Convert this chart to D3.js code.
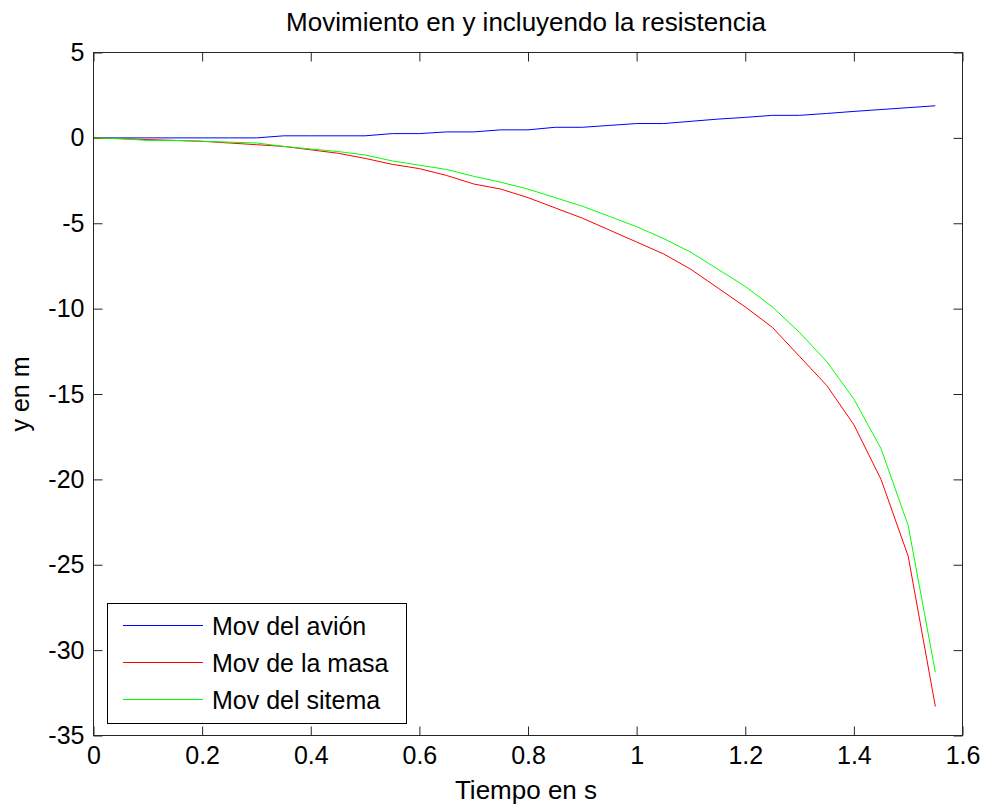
<!DOCTYPE html>
<html>
<head>
<meta charset="utf-8">
<script src="https://cdn.jsdelivr.net/npm/d3@7"></script>
<style>
  html, body { margin: 0; padding: 0; background: #fff; }
  svg { display: block; }
  text { font-family: "Liberation Sans", Arial, Helvetica, sans-serif; fill: #000; }
</style>
</head>
<body>
<svg id="chart" width="983" height="807"></svg>
<script>
// Time samples (s)
const tiempo = [0, 0.05, 0.1, 0.15, 0.2, 0.25, 0.3, 0.35, 0.4, 0.45, 0.5, 0.55, 0.6, 0.65, 0.7, 0.75,
                0.8, 0.85, 0.9, 0.95, 1.0, 1.05, 1.1, 1.15, 1.2, 1.25, 1.3, 1.35, 1.4, 1.45, 1.5, 1.55];

// Vertical position (m) of each body
const movAvion = [0, 0, 0, 0, 0, 0, 0, 0.12, 0.12, 0.12, 0.12, 0.25, 0.25, 0.35, 0.35, 0.47,
                  0.47, 0.62, 0.62, 0.73, 0.84, 0.84, 0.97, 1.1, 1.2, 1.32, 1.32, 1.43, 1.55, 1.66, 1.77, 1.88];
const movMasa = [0, -0.05, -0.1, -0.15, -0.2, -0.3, -0.4, -0.5, -0.7, -0.9, -1.2, -1.55, -1.8, -2.2, -2.7, -3.0,
                 -3.5, -4.1, -4.7, -5.4, -6.1, -6.8, -7.7, -8.8, -9.9, -11.1, -12.8, -14.5, -16.8, -20.0, -24.5, -33.3];
const movSistema = [0, -0.05, -0.15, -0.15, -0.2, -0.25, -0.3, -0.5, -0.65, -0.8, -1.0, -1.35, -1.6, -1.85, -2.25, -2.6,
                    -3.0, -3.5, -4.0, -4.6, -5.2, -5.9, -6.7, -7.7, -8.7, -9.9, -11.4, -13.1, -15.3, -18.2, -22.7, -31.3];

const seriesNames = ["Mov del avión", "Mov de la masa", "Mov del sitema"];
const seriesColors = ["#0000ff", "#ff0000", "#00ff00"];

const xTicks = [0, 0.2, 0.4, 0.6, 0.8, 1, 1.2, 1.4, 1.6];
const yTicks = [5, 0, -5, -10, -15, -20, -25, -30, -35];

const titulo = "Movimiento en y incluyendo la resistencia";
const xLabel = "Tiempo en s";
const yLabel = "y en m";

const svg = d3.select("#chart");
const L = 93.5, R = 962.5, T = 52.5, B = 735.5;
const fs = 25;

const x = d3.scaleLinear().domain([0, 1.6]).range([L, R]);
const y = d3.scaleLinear().domain([-35, 5]).range([B, T]);

// Plot box
svg.append("rect")
  .attr("x", L).attr("y", T).attr("width", R - L).attr("height", B - T)
  .attr("fill", "#fff").attr("stroke", "#262626").attr("stroke-width", 1);

const tickLen = 9;
const fmt = d => String(d);

// Bottom axis with labels, inward ticks
const gx = svg.append("g").attr("transform", `translate(0,${B})`)
  .call(d3.axisBottom(x).tickValues(xTicks).tickSizeInner(-tickLen).tickSizeOuter(0).tickPadding(11).tickFormat(fmt));
// Top axis: ticks only
const gxt = svg.append("g").attr("transform", `translate(0,${T})`)
  .call(d3.axisTop(x).tickValues(xTicks).tickSizeInner(-tickLen).tickSizeOuter(0).tickFormat(""));
// Left axis with labels
const gy = svg.append("g").attr("transform", `translate(${L},0)`)
  .call(d3.axisLeft(y).tickValues(yTicks).tickSizeInner(-tickLen).tickSizeOuter(0).tickPadding(9).tickFormat(fmt));
// Right axis: ticks only
const gyr = svg.append("g").attr("transform", `translate(${R},0)`)
  .call(d3.axisRight(y).tickValues(yTicks).tickSizeInner(-tickLen).tickSizeOuter(0).tickFormat(""));

[gx, gxt, gy, gyr].forEach(g => {
  g.select(".domain").remove();
  g.selectAll(".tick line").attr("stroke", "#262626").attr("stroke-width", 1);
  g.selectAll(".tick text").attr("font-size", fs).attr("font-family", null).attr("fill", "#000");
});
gx.attr("font-family", null).attr("font-size", null);
gy.attr("font-family", null).attr("font-size", null);

// Series lines
const line = d3.line().x((d, i) => x(tiempo[i])).y(d => y(d));
const allSeries = [movAvion, movMasa, movSistema];
allSeries.forEach((s, k) => {
  svg.append("path").datum(s)
    .attr("d", line)
    .attr("fill", "none")
    .attr("stroke", seriesColors[k])
    .attr("stroke-width", 1);
});

// Frame edges on top of the data
svg.append("rect")
  .attr("x", L).attr("y", T).attr("width", R - L).attr("height", B - T)
  .attr("fill", "none").attr("stroke", "#262626").attr("stroke-width", 1);

// Legend
const lg = svg.append("g");
lg.append("rect")
  .attr("x", 107.5).attr("y", 603.5).attr("width", 299).attr("height", 120)
  .attr("fill", "#fff").attr("stroke", "#000").attr("stroke-width", 1);
const rowY = [625.5, 662.5, 699.5];
seriesNames.forEach((name, k) => {
  lg.append("line")
    .attr("x1", 123).attr("x2", 203)
    .attr("y1", rowY[k]).attr("y2", rowY[k])
    .attr("stroke", seriesColors[k]).attr("stroke-width", 1);
  lg.append("text")
    .attr("x", 212).attr("y", rowY[k]).attr("dy", "0.36em")
    .attr("font-size", fs)
    .text(name);
});

// Title and axis labels
svg.append("text")
  .attr("x", (L + R) / 2 - 2).attr("y", 31)
  .attr("text-anchor", "middle").attr("font-size", 26)
  .text(titulo);
svg.append("text")
  .attr("x", (L + R) / 2 - 2).attr("y", 799)
  .attr("text-anchor", "middle").attr("font-size", 26)
  .text(xLabel);
svg.append("text")
  .attr("transform", `translate(29,${(T + B) / 2}) rotate(-90)`)
  .attr("text-anchor", "middle").attr("font-size", 25)
  .text(yLabel);
</script>
</body>
</html>
